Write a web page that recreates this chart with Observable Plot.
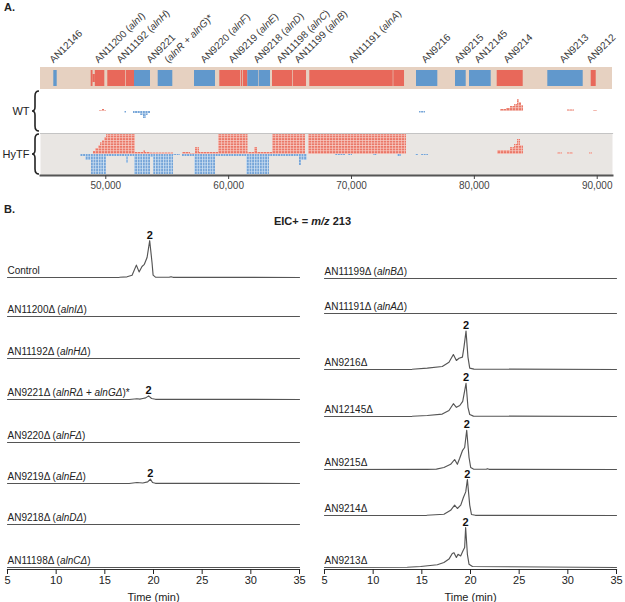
<!DOCTYPE html>
<html><head><meta charset="utf-8">
<script src="https://cdn.jsdelivr.net/npm/d3@7"></script>
<script src="https://cdn.jsdelivr.net/npm/@observablehq/plot@0.6"></script>
<style>
body{margin:0;background:#fff;}
#fig{position:relative;width:625px;height:602px;overflow:hidden;font-family:"Liberation Sans",Arial,sans-serif;color:#222;}
.lab{position:absolute;font-weight:bold;font-size:11px;white-space:nowrap;}
</style></head><body>
<svg width="0" height="0" style="position:absolute"><defs>
<pattern id="redReads" patternUnits="userSpaceOnUse" width="3" height="2.6">
<rect width="3" height="2.6" fill="#f8d3cc"/>
<rect x="0" y="0" width="2.4" height="1.9" fill="#ea7868"/>
</pattern>
<pattern id="blueReads" patternUnits="userSpaceOnUse" width="2.6" height="3">
<rect width="2.6" height="3" fill="#d3e3f3"/>
<rect x="0" y="0" width="1.8" height="2.5" fill="#76a5d8"/>
</pattern>
</defs></svg>
<div id="fig">
<div class="lab" style="left:4px;top:1px">A.</div>
<div class="lab" style="left:4px;top:203px">B.</div>
<div class="lab" style="left:0;top:215px;width:625px;text-align:center">EIC+ = <i>m/z</i> 213</div>
</div>
<script>
// ---------- Panel A data ----------
const region = [44685, 91245];
const geneExons = [
  ["AN12146", 45768, 46044, "-"],
  ["AN11200", 48812, 48959, "+"], ["AN11200", 49146, 49919, "+"],
  ["AN11192", 50163, 51604, "+"], ["AN11192", 51661, 52337, "+"],
  ["AN9221", 52337, 53639, "-"], ["AN9221", 54266, 55454, "-"],
  ["AN9220", 57221, 58930, "-"],
  ["AN9219", 59280, 60965, "+"], ["AN9219", 61022, 61152, "+"], ["AN9219", 61209, 61559, "+"],
  ["AN9218", 61559, 62430, "-"], ["AN9218", 62479, 63407, "-"],
  ["AN11198", 63570, 65198, "+"],
  ["AN11199", 65255, 66338, "+"],
  ["AN11191", 66606, 73395, "+"], ["AN11191", 73444, 74315, "+"],
  ["AN9216", 75291, 77025, "-"],
  ["AN9215", 78466, 79337, "-"],
  ["AN12145", 79606, 81372, "-"],
  ["AN9214", 81860, 83977, "+"],
  ["AN9213", 85979, 88861, "-"],
  ["AN9212", 89512, 89919, "+"]
];
const geneIntrons = [[48959, 49146]];
const geneLabels = [
  ["AN12146", 45743], ["AN11200 (alnI)", 49406], ["AN11192 (alnH)", 51197],
  ["AN9221", 53639], ["(alnR + alnG)*", 55104], ["AN9220 (alnF)", 58035],
  ["AN9219 (alnE)", 60314], ["AN9218 (alnD)", 62349], ["AN11198 (alnC)", 64221],
  ["AN11199 (alnB)", 65686], ["AN11191 (alnA)", 70082], ["AN9216", 76024],
  ["AN9215", 78711], ["AN12145", 80339], ["AN9214", 82700], ["AN9213", 87258], ["AN9212", 89455]
];
const genomeTicks = [50000, 60000, 70000, 80000, 90000];
const sampleNames = ["WT", "HyTF"];
// read pileups: [start, end, depth]
const wtPlus = [[49488,49732,1],[49732,49895,2],[49895,50057,1],[82129,82617,2],[82617,82943,3],[82943,83269,5],[83269,83513,7],[83513,83676,12],[83676,83838,9],[83838,84001,6],[87583,88153,1.5],[89699,90025,1]];
const wtMinus = [[51523,51685,1.5],[52255,52825,2],[52825,53069,4],[53069,53314,7],[53314,53476,4],[53476,53639,2],[75536,76024,1.5]];
const hytfPlus = [[48999,49162,3],[49162,49406,6],[49406,49569,9],[49569,49732,12],[49732,49895,14],[49895,50057,17],[50057,52418,20],
  [52418,53069,2],[53069,53232,4],[53232,53639,2],[53639,55511,1.5],[56244,56895,2],[56895,57302,1],[57302,57628,7],[57628,59174,2],
  [59174,61575,20],[61575,62105,2],[62105,62349,7],[62349,63570,2],[63570,66256,20],[66500,74478,20],
  [81885,82943,4],[82943,83269,7],[83269,83513,10],[83513,83757,15],[83757,84001,9],[86769,87176,1.5],[87583,88071,1.5],[89374,89618,1.5]];
const hytfMinus = [[47941,48348,2],[48348,48836,6],[48836,50057,20],[50057,51685,2],[51685,51848,9],[51848,52337,2],[52337,53639,20],
  [53639,53883,3],[53883,55511,20],[55511,56081,1],[56244,57221,2],[57221,58930,20],[58930,61453,2],[61453,63326,20],[63326,65768,2],
  [65768,65930,11],[65930,66419,6],[68698,69512,1],[69756,70082,1],[71791,72117,1],[73745,74071,2],[75210,75455,1],[75699,76268,1]];

// ---------- Panel B data ----------
const timeTicks = [5, 10, 15, 20, 25, 30, 35];
const timeLabel = "Time (min)";
const peakName = "2";
const leftNames = ["Control","AN11200Δ (alnIΔ)","AN11192Δ (alnHΔ)","AN9221Δ (alnRΔ + alnGΔ)*","AN9220Δ (alnFΔ)","AN9219Δ (alnEΔ)","AN9218Δ (alnDΔ)","AN11198Δ (alnCΔ)"];
const rightNames = ["AN11199Δ (alnBΔ)","AN11191Δ (alnAΔ)","AN9216Δ","AN12145Δ","AN9215Δ","AN9214Δ","AN9213Δ"];
const flat = [[5,0],[35,0]];
const tControl = [[5,0],[16.5,0.5],[17.28,1.7],[17.8,5.8],[18.24,31],[18.52,14],[18.82,27.5],[19.06,33],[19.34,50],[19.61,92],[19.85,37],[19.96,6],[20.2,1],[21.6,0.5],[21.8,2],[22.0,0.5],[35,0]];
const tAN9221 = [[5,0],[17.5,0],[18.3,2],[18.6,1],[18.9,2.5],[19.2,4],[19.5,9],[19.8,2.5],[20.2,0.5],[35,0]];
const tAN9219 = [[5,0],[17.5,0],[18.3,2.5],[18.9,1.2],[19.4,4],[19.68,11],[19.9,2.5],[20.2,0.5],[35,0]];
const tAN9216 = [[5,0],[14,0.5],[15.56,3.3],[17.1,7.5],[17.79,18],[18.24,37.5],[18.55,22.5],[18.82,28],[19.17,31],[19.33,56],[19.54,96],[19.74,31],[19.92,3.3],[20.36,1],[35,0]];
const tAN12145 = [[5,0],[14,0.5],[15.56,2.5],[17.1,6],[17.79,15],[18.24,32],[18.55,23],[18.9,27.5],[19.2,38],[19.54,83],[19.74,23],[19.92,5],[20.3,1],[35,0]];
const tAN9215 = [[5,0],[15.5,0.5],[16.5,1],[17.27,5],[17.96,13],[18.37,25],[18.65,13],[18.89,28],[19.17,47],[19.4,55],[19.61,98],[19.85,30],[20.02,5],[20.3,1],[21.6,0.5],[21.75,2],[21.9,0.5],[35,0]];
const tAN9214 = [[5,0],[15.5,0.5],[17.27,3],[17.96,13],[18.37,26],[18.65,17.5],[19.0,26],[19.27,45],[19.51,59],[19.68,90],[19.92,26],[20.1,2.5],[20.5,0.5],[35,0]];
const tAN9213 = [[5,0],[13.5,0.5],[14.88,2.5],[16.59,7],[17.27,12.5],[17.79,21],[18.13,35],[18.3,37],[18.55,25],[18.72,33],[18.99,29],[19.23,42],[19.4,50],[19.5,100],[19.68,33],[19.85,8],[20.2,2.5],[35,0]];
const leftTraces = [tControl, flat, flat, tAN9221, flat, tAN9219, flat, flat];
const rightTraces = [flat, flat, tAN9216, tAN12145, tAN9215, tAN9214, tAN9213];

// ---------- layout ----------
const RED = "#e8685a", BLUE = "#6198cc";
const fig = document.getElementById("fig");
const NS = "http://www.w3.org/2000/svg";
const baseStyle = {background: "transparent", overflow: "visible", fontFamily: "'Liberation Sans', Arial, sans-serif", color: "#222"};
function place(node, left, top) {
  node.style.position = "absolute"; node.style.left = left + "px"; node.style.top = top + "px";
  fig.appendChild(node); return node;
}

// gene track
place(Plot.plot({
  width: 625, height: 90, marginTop: 67, marginBottom: 1, marginLeft: 40, marginRight: 13,
  x: {domain: region, axis: null},
  y: {domain: ["track"], axis: null, padding: 0},
  color: {domain: ["+", "-"], range: [RED, BLUE]},
  style: baseStyle,
  marks: [
    Plot.barX([region], {x1: d => d[0], x2: d => d[1], y: () => "track", fill: "#e6d1c1"}),
    Plot.barX(geneIntrons, {x1: d => d[0], x2: d => d[1], y: () => "track", fill: RED, insetTop: 7, insetBottom: 7}),
    Plot.barX(geneExons, {x1: d => d[1], x2: d => d[2], y: () => "track", fill: d => d[3], insetTop: 3, insetBottom: 3}),
    Plot.text(geneLabels, {x: d => d[1], y: () => "track", text: d => d[0], rotate: -45, textAnchor: "start", lineAnchor: "bottom", dy: -15, fontSize: 10, fill: "#3a3a3a"})
  ]
}), 0, 0);

function brace() {
  return (index, scales, values, dim) => {
    const g = document.createElementNS(NS, "g");
    const top = dim.marginTop + 1, bot = dim.height - dim.marginBottom - 1, mid = (top + bot) / 2;
    const x = dim.marginLeft - 5;
    const p = document.createElementNS(NS, "path");
    p.setAttribute("d", `M${x+4},${top} Q${x},${top} ${x},${top+5} L${x},${mid-4} Q${x},${mid} ${x-3},${mid} Q${x},${mid} ${x},${mid+4} L${x},${bot-5} Q${x},${bot} ${x+4},${bot}`);
    p.setAttribute("fill", "none"); p.setAttribute("stroke", "#222"); p.setAttribute("stroke-width", "1.6");
    g.appendChild(p);
    return g;
  };
}
function readsPlot(name, plus, minus, withAxis) {
  const marks = [];
  if (withAxis) marks.push(Plot.frame({fill: "#e9e6e3", stroke: "none"}), Plot.frame({anchor: "top", stroke: "#c4c4c4", strokeWidth: 1.2}));
  marks.push(
    Plot.rect(plus, {x1: d => d[0], x2: d => d[1], y1: 0, y2: d => d[2], fill: "url(#redReads)"}),
    Plot.rect(minus, {x1: d => d[0], x2: d => d[1], y1: 0, y2: d => -d[2], fill: "url(#blueReads)"}),
    Plot.text([name], {frameAnchor: "left", dx: -11, textAnchor: "end", fontSize: 11, fill: "#222"}),
    brace()
  );
  if (withAxis) marks.push(
    Plot.frame({anchor: "bottom", stroke: "#555", strokeWidth: 2}),
    Plot.axisX({ticks: genomeTicks, tickFormat: d3.format(","), tickSize: 4, tickPadding: 2, fontSize: 10, color: "#444", label: null})
  );
  return Plot.plot({
    width: 625, height: withAxis ? 64 : 42, marginTop: 0, marginBottom: withAxis ? 22 : 0, marginLeft: 40, marginRight: 13,
    x: {domain: region, axis: null}, y: {domain: [-21, 21], axis: null},
    style: baseStyle, marks
  });
}
place(readsPlot(sampleNames[0], wtPlus, wtMinus, false), 0, 90);
place(readsPlot(sampleNames[1], hytfPlus, hytfMinus, true), 0, 133);

// chromatograms
function tracePlot(points, name, withAxis, g) {
  const peak = d3.greatest(points, d => d[1]);
  const marks = [
    Plot.line(points, {x: d => d[0], y: d => d[1], stroke: "#555", strokeWidth: 1.15}),
    Plot.text([name], {frameAnchor: "bottom-left", dy: withAxis ? -6 : -4, textAnchor: "start", lineAnchor: "bottom", fontSize: 10, fill: "#222"})
  ];
  if (peak[1] > 5) marks.push(Plot.text([peak], {x: d => d[0], y: d => d[1], text: () => peakName, lineAnchor: "bottom", dy: -2, fontSize: 11, fontWeight: "bold", fill: "#111"}));
  if (withAxis) marks.push(
    Plot.frame({anchor: "bottom", stroke: "#333", strokeWidth: 1.2}),
    Plot.axisX({ticks: timeTicks, tickSize: 5, tickPadding: 2, fontSize: 11, color: "#222", label: timeLabel, labelAnchor: "center", labelArrow: "none", labelOffset: 31})
  );
  return Plot.plot({
    width: g.width, height: withAxis ? 98 : 60, marginTop: 18, marginBottom: withAxis ? 38 : 2,
    marginLeft: g.ml, marginRight: g.mr,
    x: {domain: [5, 35], axis: null}, y: {domain: [0, 100], axis: null, insetBottom: withAxis ? 2 : 0},
    style: baseStyle, marks
  });
}
const leftBase = [276.7, 315.7, 357.7, 399.3, 441.7, 483.3, 524.3, 567];
const rightBase = [277.7, 312.7, 369, 416, 468.7, 515.3, 567];
const LG = {width: 310, ml: 7, mr: 11, left: 0}, RG = {width: 315, ml: 14, mr: 9, left: 310};
leftTraces.forEach((t, i) => place(tracePlot(t, leftNames[i], i === leftTraces.length - 1, LG), LG.left, leftBase[i] - 58));
rightTraces.forEach((t, i) => place(tracePlot(t, rightNames[i], i === rightTraces.length - 1, RG), RG.left, rightBase[i] - 58));

// italicise gene names (aln…)
d3.selectAll("#fig svg text").each(function() {
  const t = this.textContent;
  if (!/aln[A-Z]/.test(t) || this.querySelector("tspan")) return;
  this.textContent = "";
  t.split(/(aln[A-Z]Δ?)/).forEach(part => {
    if (!part) return;
    const ts = document.createElementNS(NS, "tspan");
    ts.textContent = part;
    if (/^aln/.test(part)) ts.setAttribute("font-style", "italic");
    this.appendChild(ts);
  });
});
</script>
</body></html>
